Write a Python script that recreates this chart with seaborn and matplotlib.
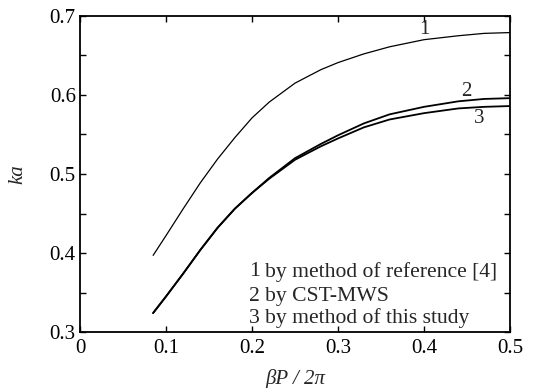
import matplotlib
matplotlib.use("Agg")
import matplotlib.pyplot as plt
import seaborn as sns
import pandas as pd
from matplotlib.ticker import MultipleLocator, FuncFormatter

# normalized phase constant beta*P/(2*pi)
beta_p = [0.085, 0.10, 0.12, 0.14, 0.16, 0.18, 0.20, 0.22, 0.25, 0.28,
          0.30, 0.33, 0.36, 0.40, 0.44, 0.47, 0.50]
# ka for each method
ka_reference = [0.397, 0.422, 0.456, 0.489, 0.519, 0.546, 0.571, 0.591, 0.615,
                0.632, 0.641, 0.652, 0.661, 0.670, 0.675, 0.678, 0.679]
ka_cst = [0.324, 0.345, 0.374, 0.404, 0.432, 0.456, 0.476, 0.495, 0.520,
          0.538, 0.549, 0.564, 0.5755, 0.585, 0.592, 0.595, 0.596]
ka_study = [0.324, 0.345, 0.374, 0.404, 0.432, 0.456, 0.476, 0.494, 0.518,
            0.535, 0.545, 0.559, 0.569, 0.577, 0.583, 0.585, 0.586]

curve_ids = ["1", "2", "3"]
curve_texts = ["by method of reference [4]", "by CST-MWS", "by method of this study"]

sns.set_style("ticks")
plt.rcParams["font.family"] = ["Liberation Serif", "DejaVu Serif"]

FS = 15
FS_KEY = 15.6

fig = plt.figure(figsize=(5.37, 3.88), dpi=100)
ax = fig.add_axes([0.149, 0.1443, 0.8007, 0.8145])

series = [ka_reference, ka_cst, ka_study]
widths = [0.9, 1.3, 1.3]
for vals, lw in zip(series, widths):
    df = pd.DataFrame({"x": beta_p, "y": vals})
    sns.lineplot(data=df, x="x", y="y", ax=ax, color="black", linewidth=lw,
                 estimator=None, sort=False)

ax.set_xlim(0, 0.5)
ax.set_ylim(0.3, 0.7)
ax.xaxis.set_major_locator(MultipleLocator(0.1))
ax.yaxis.set_major_locator(MultipleLocator(0.1))
ax.yaxis.set_minor_locator(MultipleLocator(0.05))
ax.xaxis.set_major_formatter(FuncFormatter(lambda v, p: "0" if abs(v) < 1e-9 else f"{v:.1f}"))
ax.yaxis.set_major_formatter(FuncFormatter(lambda v, p: f"{v:.1f}"))
ax.tick_params(which="both", direction="in", top=True, right=True,
               labelsize=FS, width=1.0, colors="black", length=4)
ax.tick_params(axis="y", pad=3)
ax.tick_params(axis="x", pad=5)
for s in ax.spines.values():
    s.set_visible(True)
    s.set_linewidth(1.3)
    s.set_color("black")

ax.set_xlabel("βP / 2π", fontsize=FS, fontstyle="italic", labelpad=8)
ax.set_ylabel("ka", fontsize=FS, fontstyle="italic", labelpad=16)

# curve numbers next to the lines
ax.text(0.401, 0.6835, "1", fontsize=FS, ha="center", va="center")
ax.text(0.4497, 0.6042, "2", fontsize=FS, ha="center", va="center")
ax.text(0.4643, 0.5705, "3", fontsize=FS, ha="center", va="center")

# key of curve numbers
for i, (cid, txt) in enumerate(zip(curve_ids, curve_texts)):
    yy = [0.191, 0.112, 0.043][i]
    ax.text(0.392, yy, cid, transform=ax.transAxes, fontsize=FS_KEY, ha="left", va="center")
    ax.text(0.430, yy, txt, transform=ax.transAxes, fontsize=FS_KEY, ha="left", va="center")

fig.savefig("out.png", dpi=100)
